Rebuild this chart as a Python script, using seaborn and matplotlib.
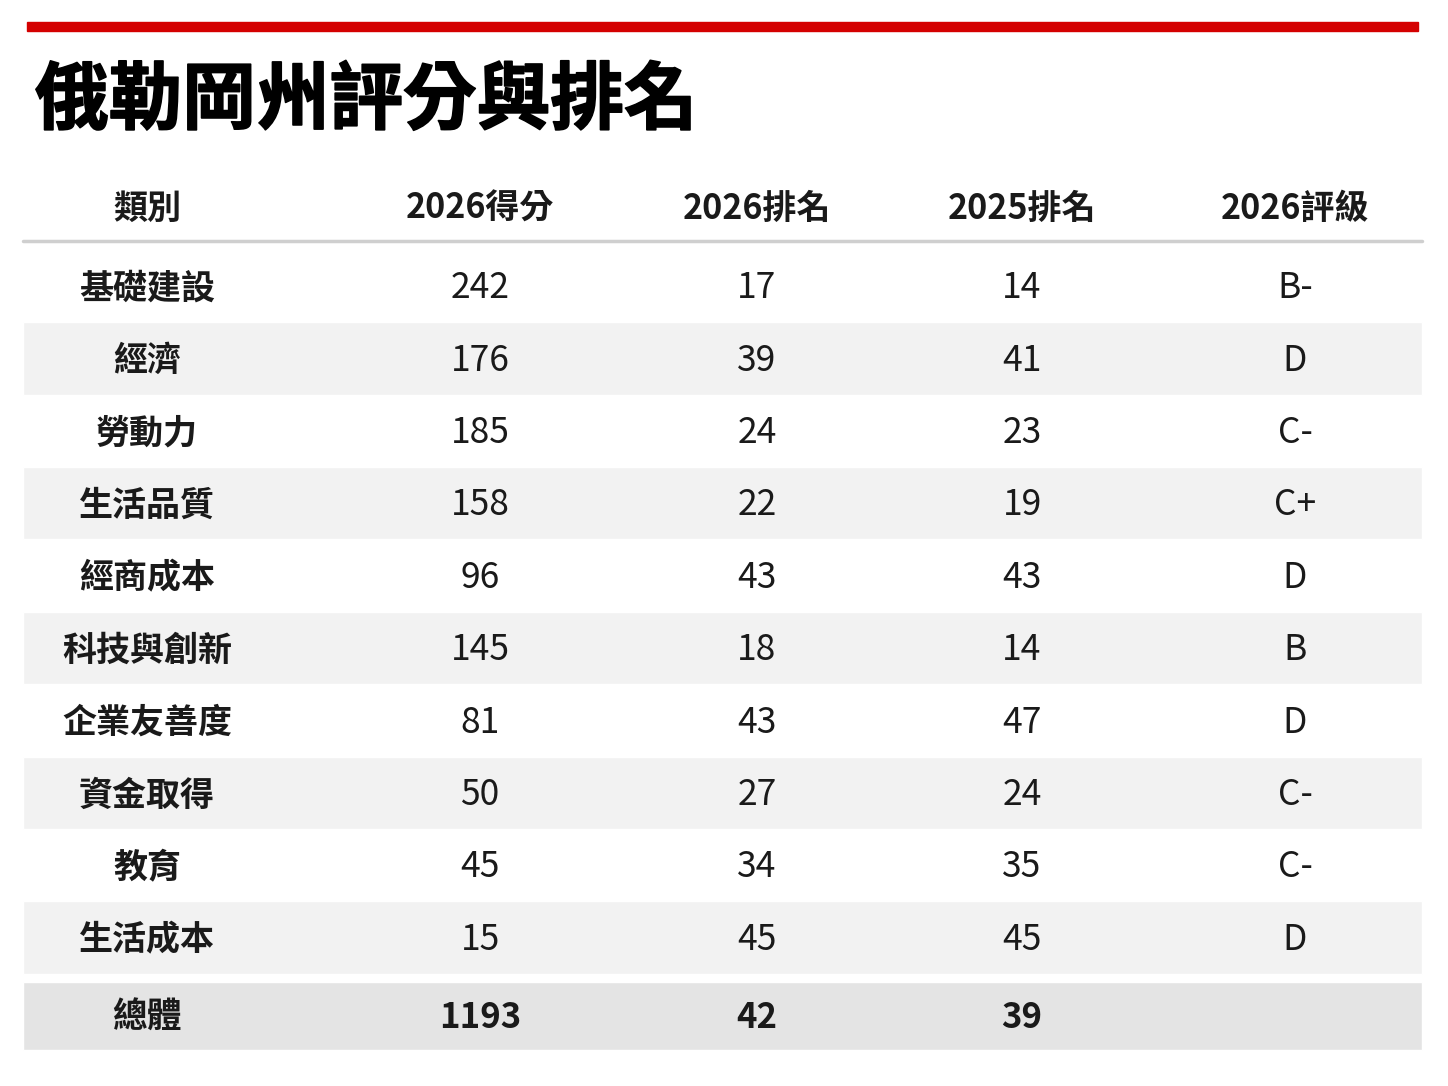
import matplotlib
matplotlib.use('Agg')
import matplotlib.pyplot as plt
import matplotlib.patheffects as pe
import seaborn as sns
from matplotlib.patches import Rectangle

# Dados da tabela
titulo = '俄勒岡州評分與排名'
cabecalho = ['類別', '2026得分', '2026排名', '2025排名', '2026評級']
categorias = ['基礎建設', '經濟', '勞動力', '生活品質', '經商成本',
              '科技與創新', '企業友善度', '資金取得', '教育', '生活成本']
pontos_2026 = [242, 176, 185, 158, 96, 145, 81, 50, 45, 15]
rank_2026 = [17, 39, 24, 22, 43, 18, 43, 27, 34, 45]
rank_2025 = [14, 41, 23, 19, 43, 14, 47, 24, 35, 45]
notas_2026 = ['B-', 'D', 'C-', 'C+', 'D', 'B', 'D', 'C-', 'C-', 'D']
total_rotulo = '總體'
total_pontos = 1193
total_rank_2026 = 42
total_rank_2025 = 39

sns.set_theme(style='white')
plt.rcParams['font.family'] = ['Noto Sans CJK TC', 'DejaVu Sans']

# Layout (posições das colunas em px, linhas em índice)
col_x = [147, 480, 757, 1022, 1295]
y_cab = -1.07
y_linha_cab = -0.62
y_total = 10.08
esq, larg = 23, 1399
cor_texto = '#1a1a1a'

fig = plt.figure(figsize=(14.48, 10.86), dpi=100)
ax = fig.add_axes([0, 0.0233, 1, 0.8266])
ax.set_xlim(0, 1448)
ax.set_ylim(10.7, -1.7)
ax.axis('off')

# Faixas alternadas
faixas = [i for i in range(len(categorias)) if i % 2 == 1]
ax.barh(faixas, [larg] * len(faixas), left=esq, height=1.0, color='#f2f2f2', zorder=0)
ax.barh([y_total], [larg], left=esq, height=0.94, color='#e4e4e4', zorder=0)

# Linha abaixo do cabeçalho
ax.plot([esq, esq + larg], [y_linha_cab, y_linha_cab], color='#cfcfcf', lw=2.5)

# Cabeçalho
for x, txt in zip(col_x, cabecalho):
    ax.text(x, y_cab, txt, ha='center', va='center', fontsize=24.5,
            fontweight='bold', color=cor_texto)

# Linhas de dados
for i, cat in enumerate(categorias):
    valores = [pontos_2026[i], rank_2026[i], rank_2025[i], notas_2026[i]]
    ax.text(col_x[0], i + 0.03, cat, ha='center', va='center', fontsize=24.5,
            fontweight='bold', color=cor_texto)
    for x, v in zip(col_x[1:], valores):
        ax.text(x, i + 0.03, str(v), ha='center', va='center', fontsize=25.5,
                color=cor_texto)

# Linha total
for x, v in zip(col_x[:4], [total_rotulo, total_pontos, total_rank_2026, total_rank_2025]):
    ax.text(x, y_total + 0.02, str(v), ha='center', va='center', fontsize=25,
            fontweight='bold', color=cor_texto)

# Barra vermelha e título (contorno leve para ficar mais pesado)
fig.add_artist(Rectangle((27 / 1448, 1 - 31 / 1086), 1391 / 1448, 9 / 1086,
                         transform=fig.transFigure, color='#d40000'))
fig.text(35 / 1448, 1 - 102 / 1086, titulo, ha='left', va='center', fontsize=53,
         fontweight='black', color='black',
         path_effects=[pe.withStroke(linewidth=1.2, foreground='black')])

fig.savefig('out.png', dpi=100)
